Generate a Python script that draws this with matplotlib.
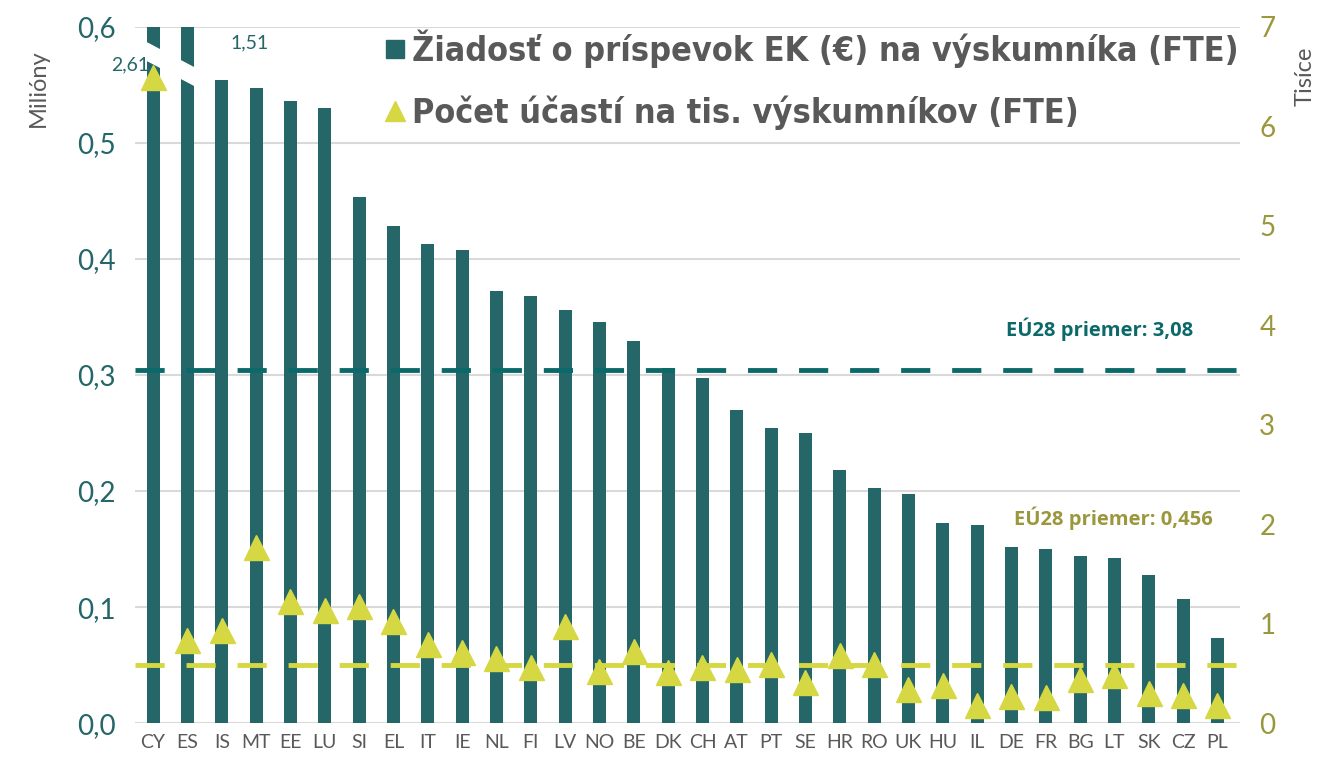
import matplotlib.pyplot as plt
import numpy as np
from matplotlib.lines import Line2D
from matplotlib.patches import Polygon

# krajiny a hodnoty odčítané z grafu
countries = ['CY', 'ES', 'IS', 'MT', 'EE', 'LU', 'SI', 'EL', 'IT', 'IE', 'NL', 'FI', 'LV', 'NO', 'BE', 'DK',
             'CH', 'AT', 'PT', 'SE', 'HR', 'RO', 'UK', 'HU', 'IL', 'DE', 'FR', 'BG', 'LT', 'SK', 'CZ', 'PL']
# žiadosť o príspevok EK na výskumníka (milióny €)
request = [2.61, 1.51, 0.554, 0.547, 0.536, 0.530, 0.453, 0.428, 0.413, 0.408, 0.372, 0.368, 0.356, 0.346,
           0.329, 0.306, 0.297, 0.270, 0.254, 0.250, 0.218, 0.203, 0.197, 0.172, 0.171, 0.152, 0.150, 0.144,
           0.142, 0.128, 0.107, 0.073]
# počet účastí na tis. výskumníkov (tisíce)
participations = [6.50, 0.84, 0.94, 1.77, 1.23, 1.14, 1.18, 1.03, 0.80, 0.71, 0.65, 0.56, 0.98, 0.52, 0.72,
                  0.51, 0.56, 0.54, 0.59, 0.41, 0.68, 0.59, 0.34, 0.38, 0.18, 0.27, 0.26, 0.44, 0.48, 0.30,
                  0.28, 0.18]
avg_request = 0.304      # poloha čiarkovanej čiary (ľavá os)
avg_part = 0.585         # poloha čiarkovanej čiary (pravá os)
broken_labels = ['2,61', '1,51']

teal = '#256669'
teal_line = '#0b6a69'
yellow = '#d5d843'
olive = '#9a973d'
gray = '#595959'

fig = plt.figure(figsize=(13.26, 7.66), dpi=100)
ax = fig.add_axes([0.102, 0.056, 0.833, 0.909])
ax2 = ax.twinx()

x = np.arange(len(countries))
ax.bar(x, np.minimum(request, 0.6), width=0.38, color=teal, zorder=2)
ax.set_ylim(0, 0.6)
ax.set_xlim(-0.52, 31.65)
ax.set_yticks(np.arange(0, 0.61, 0.1))
ax.set_yticklabels([f'{v:.1f}'.replace('.', ',') for v in np.arange(0, 0.61, 0.1)],
                   color=teal, fontsize=20, family='Lato')
ax.set_xticks(x)
ax.set_xticklabels(countries, color=gray, fontsize=14, family='Lato')
ax.tick_params(length=0, pad=8)
ax.tick_params(axis='y', pad=14)
ax.grid(axis='y', color='#d9d9d9', lw=1.5, zorder=0)
ax.set_axisbelow(True)
for s in ax.spines.values():
    s.set_visible(False)
for s in ax2.spines.values():
    s.set_visible(False)

# prerušenie stĺpcov CY a ES
brk = Polygon([[x[0] - 0.3, 0.588], [x[1] + 0.75, 0.556], [x[1] + 0.75, 0.541], [x[0] - 0.3, 0.573]],
              closed=True, color='white', zorder=3)
ax.add_patch(brk)
ax.text(x[0] - 0.67, 0.567, broken_labels[0], color=teal, fontsize=14, family='Lato',
        ha='center', va='center', zorder=4)
ax.text(x[2] + 0.82, 0.586, broken_labels[1], color=teal, fontsize=14, family='Lato',
        ha='center', va='center', zorder=4)

ax.axhline(avg_request, color=teal_line, lw=3.5, dashes=(6, 4.5), zorder=3)
ax.text(30.28, 0.339, 'EÚ28 priemer: 3,08', color=teal_line, fontsize=14.5, family='Open Sans',
        fontweight='bold', ha='right', va='center')

ax2.set_ylim(0, 7)
ax2.set_yticks(range(8))
ax2.set_yticklabels([str(v) for v in range(8)], color=olive, fontsize=20, family='Lato')
ax2.tick_params(length=0, pad=14)
ax2.axhline(avg_part, color=yellow, lw=3.5, dashes=(6, 4.5), zorder=3)
ax2.plot(x, participations, linestyle='none', marker='^', markersize=18, color=yellow, zorder=4)
ax2.text(30.86, 2.06, 'EÚ28 priemer: 0,456', color=olive, fontsize=14.5, family='Open Sans',
         fontweight='bold', ha='right', va='center')

fig.text(0.029, 0.885, 'Milióny', rotation=90, color=gray, fontsize=17, family='Lato',
         ha='center', va='center')
fig.text(0.984, 0.9, 'Tisíce', rotation=90, color=gray, fontsize=17, family='Lato',
         ha='center', va='center')

handles = [Line2D([], [], linestyle='none', marker='s', markersize=13, color=teal),
           Line2D([], [], linestyle='none', marker='^', markersize=15, color=yellow)]
leg = ax2.legend(handles, ['Žiadosť o príspevok EK (€) na výskumníka (FTE)',
                           'Počet účastí na tis. výskumníkov (FTE)'],
                 loc='upper left', bbox_to_anchor=(0.195, 1.04), frameon=False,
                 handletextpad=0.1, handlelength=0.8, labelspacing=0.8,
                 prop={'family': 'DejaVu Sans', 'stretch': 'condensed', 'weight': 'bold', 'size': 24.5})
for t in leg.get_texts():
    t.set_color(gray)

fig.savefig('out.png', dpi=100)
